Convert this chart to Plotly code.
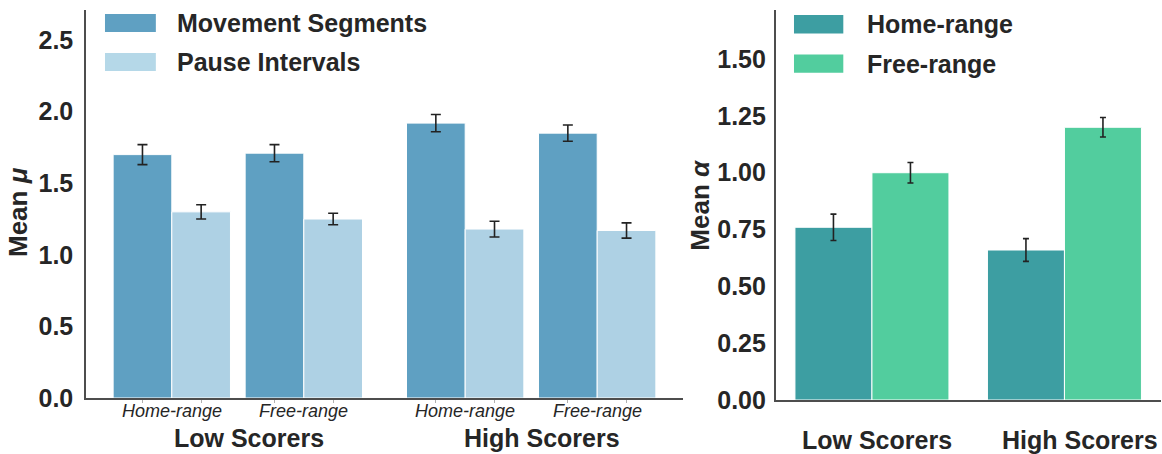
import numpy as np
import plotly.graph_objects as go

# ---------------- data ----------------
groups = ["Low Scorers", "High Scorers"]
conditions = ["Home-range", "Free-range"]

# left panel: mean mu  (order: Low-Home, Low-Free, High-Home, High-Free)
movement_mu = [1.70, 1.71, 1.92, 1.85]
movement_err = [0.07, 0.06, 0.06, 0.057]
pause_mu = [1.30, 1.25, 1.18, 1.17]
pause_err = [0.05, 0.04, 0.055, 0.053]

# right panel: mean alpha  (order: Low, High)
home_alpha = [0.76, 0.66]
home_err = [0.058, 0.05]
free_alpha = [1.00, 1.20]
free_err = [0.045, 0.043]

left_yticks = [0.0, 0.5, 1.0, 1.5, 2.0, 2.5]
right_yticks = [0.0, 0.25, 0.50, 0.75, 1.00, 1.25, 1.50]

# ---------------- styling ----------------
C_MOVE = "#5fa0c2"
C_PAUSE = "#aed1e4"
C_HOME = "#3d9ea2"
C_FREE = "#52cd9e"
FONT = "Liberation Sans"
TXT = "#262626"
SPINE = "#4d4d4d"
W, H = 1162, 454
FS = 25

BW = 0.4
# positions of condition pairs in left panel
g_idx = np.array([0, 0, 1, 1])
c_idx = np.array([0, 1, 0, 1])
pair_x = g_idx * 2.0 + c_idx * 0.9
r_x = np.arange(len(groups))

fig = go.Figure()

def err(arr, width):
    return dict(type="data", array=arr, color="#222222", thickness=1.6, width=width, visible=True)

fig.add_trace(go.Bar(x=pair_x - BW / 2, y=movement_mu, width=BW, name="Movement Segments",
                     marker=dict(color=C_MOVE, line=dict(color="white", width=1)),
                     error_y=err(movement_err, 5), xaxis="x", yaxis="y", showlegend=False))
fig.add_trace(go.Bar(x=pair_x + BW / 2, y=pause_mu, width=BW, name="Pause Intervals",
                     marker=dict(color=C_PAUSE, line=dict(color="white", width=1)),
                     error_y=err(pause_err, 5), xaxis="x", yaxis="y", showlegend=False))
fig.add_trace(go.Bar(x=r_x - BW / 2, y=home_alpha, width=BW, name="Home-range",
                     marker=dict(color=C_HOME, line=dict(color="white", width=1)),
                     error_y=err(home_err, 3), xaxis="x2", yaxis="y2", showlegend=False))
fig.add_trace(go.Bar(x=r_x + BW / 2, y=free_alpha, width=BW, name="Free-range",
                     marker=dict(color=C_FREE, line=dict(color="white", width=1)),
                     error_y=err(free_err, 3), xaxis="x2", yaxis="y2", showlegend=False))

# domains (pixel measured)
lx = [86 / W, 683 / W]
ly = [(H - 398) / H, (H - 10) / H]
rx = [775.7 / W, 1160.7 / W]
ry = [(H - 400) / H, (H - 10) / H]

bar_centers = np.concatenate([pair_x - BW / 2, pair_x + BW / 2])

axis_common = dict(showline=True, linecolor=SPINE, linewidth=1.5, showgrid=False, zeroline=False,
                   mirror=False, automargin=False)
tickfont = dict(family=FONT, size=FS, color=TXT, weight="bold")

fig.update_layout(
    width=W, height=H, margin=dict(l=0, r=0, t=0, b=0, autoexpand=False),
    plot_bgcolor="white", paper_bgcolor="white", barmode="overlay",
    font=dict(family=FONT, color=TXT),
    xaxis=dict(domain=lx, range=[-0.585, 3.485], tickvals=sorted(bar_centers),
               ticktext=[""] * len(bar_centers), ticks="outside", ticklen=3,
               tickcolor="#b0b0b0", anchor="y", **axis_common),
    yaxis=dict(domain=ly, range=[0, 2.71], tickvals=left_yticks,
               ticktext=[f"{v:.1f}" for v in left_yticks], ticks="",
               ticklabelstandoff=6, tickfont=tickfont, anchor="x", **axis_common),
    xaxis2=dict(domain=rx, range=[-0.5, 1.5], tickvals=[], anchor="y2", **axis_common),
    yaxis2=dict(domain=ry, range=[0, 1.716], tickvals=right_yticks,
                ticktext=[f"{v:.2f}" for v in right_yticks], ticks="",
                ticklabelstandoff=3, tickfont=tickfont, anchor="x2", **axis_common),
)

ann = []
# left sub-labels (conditions)
for px, ci in zip(pair_x, c_idx):
    ann.append(dict(x=px, y=0, xref="x", yref="y domain", yanchor="top", yshift=-1,
                    text=f"<i>{conditions[ci]}</i>", showarrow=False,
                    font=dict(family=FONT, size=18, color=TXT)))
# left group labels
for gi, g in enumerate(groups):
    gx = gi * 2.0 + 0.45
    ann.append(dict(x=gx, y=0, xref="x", yref="y domain", yanchor="top", yshift=-24,
                    xshift=11, text=f"<b>{g}</b>", showarrow=False,
                    font=dict(family=FONT, size=FS, color=TXT)))
# right group labels
for gi, g in enumerate(groups):
    ann.append(dict(x=r_x[gi], y=0, xref="x2", yref="y2 domain", yanchor="top", yshift=-24,
                    xshift=[5, 16][gi], text=f"<b>{g}</b>", showarrow=False,
                    font=dict(family=FONT, size=FS, color=TXT)))
# y titles
ann.append(dict(x=0, y=0.5, xref="x domain", yref="y domain", xanchor="center", yanchor="middle",
                xshift=-68, yshift=-8, textangle=-90, text="<b>Mean <i>μ</i></b>", showarrow=False,
                font=dict(family=FONT, size=26, color=TXT)))
ann.append(dict(x=0, y=0.5, xref="x2 domain", yref="y2 domain", xanchor="center", yanchor="middle",
                xshift=-76, textangle=-90, text="<b>Mean <i>α</i></b>", showarrow=False,
                font=dict(family=FONT, size=26, color=TXT)))

# custom legends (large swatches)
shapes = []
legends = [
    ("x domain", "y domain", [("Movement Segments", C_MOVE), ("Pause Intervals", "#b5d8e8")],
     (0.0318, 0.117), [(0.9433, 0.9897), (0.8428, 0.889)], 0.149),
    ("x2 domain", "y2 domain", [("Home-range", C_HOME), ("Free-range", C_FREE)],
     (0.0475, 0.1756), [(0.940, 0.987), (0.839, 0.886)], 0.232),
]
for xr, yr, items, (sx0, sx1), rows, tx in legends:
    for (label, col), (y0, y1) in zip(items, rows):
        shapes.append(dict(type="rect", xref=xr, yref=yr, x0=sx0, x1=sx1, y0=y0, y1=y1,
                           fillcolor=col, line=dict(width=0)))
        ann.append(dict(x=tx, y=(y0 + y1) / 2, xref=xr, yref=yr, xanchor="left", yanchor="middle",
                        text=f"<b>{label}</b>", showarrow=False,
                        font=dict(family=FONT, size=FS, color=TXT)))

fig.update_layout(annotations=ann, shapes=shapes)
fig.write_html("out.html", config={"displayModeBar": False},
               post_script="document.body.style.margin='0';document.body.style.padding='0';")
